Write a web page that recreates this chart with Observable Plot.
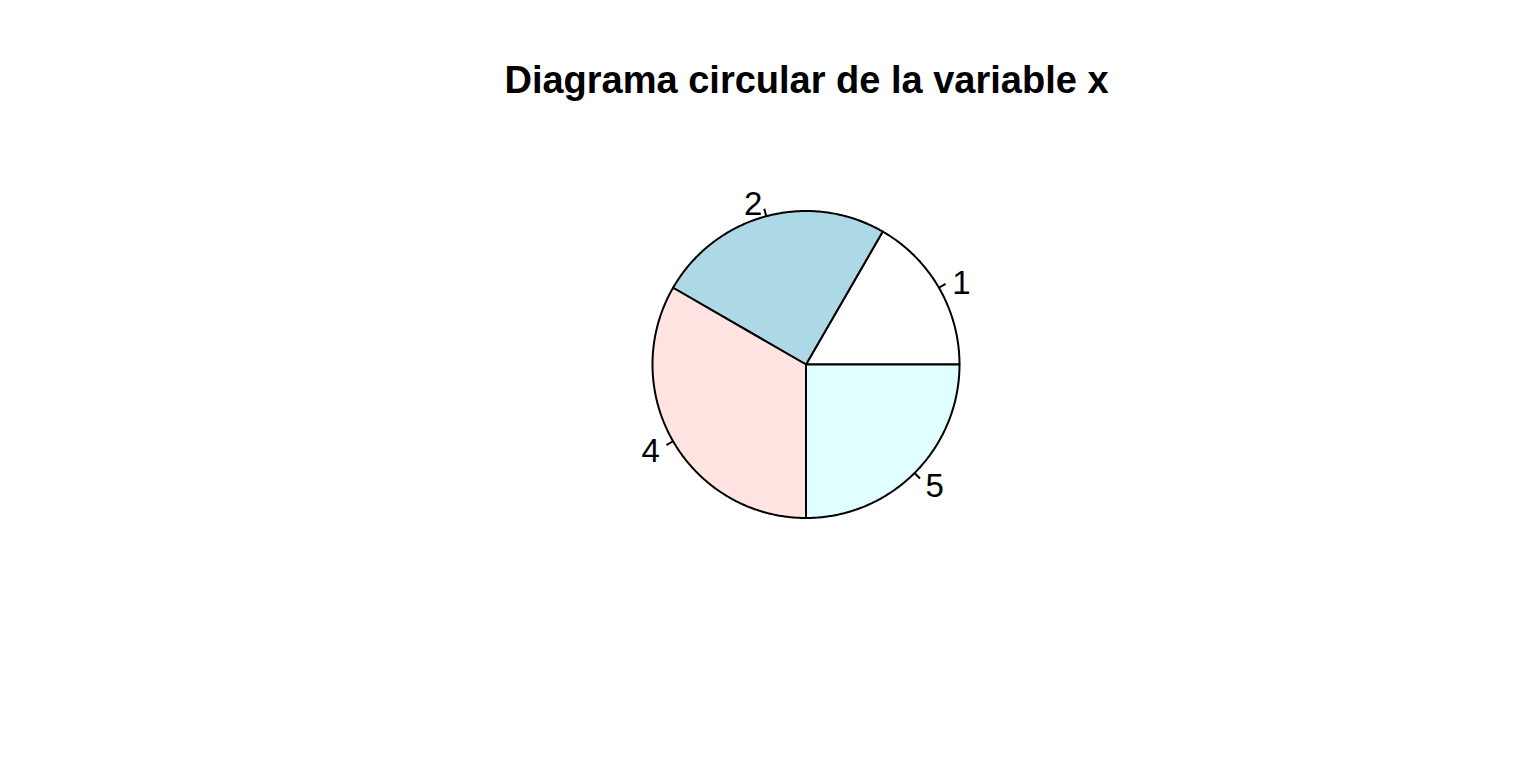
<!DOCTYPE html>
<html>
<head>
<meta charset="utf-8">
<script src="https://cdn.jsdelivr.net/npm/d3@7"></script>
<script src="https://cdn.jsdelivr.net/npm/@observablehq/plot@0.6"></script>
<style>
  html, body { margin: 0; padding: 0; background: #ffffff; }
  #wrap { width: 1536px; height: 768px; position: relative; overflow: hidden; }
  #title {
    box-sizing: border-box;
    width: 1536px; height: 120px;
    padding-top: 61px; padding-left: 77px;
    text-align: center;
    font-family: "Liberation Sans", Arial, sans-serif;
    font-weight: bold; font-size: 38px; line-height: 38px;
    color: #000;
  }
  #chart svg { display: block; }
</style>
</head>
<body>
<div id="wrap">
  <div id="title">Diagrama circular de la variable x</div>
  <div id="chart"></div>
</div>
<script>
// Data
const categories = ["1", "2", "4", "5"];
const counts = [2, 3, 4, 3];
const colors = ["white", "lightblue", "mistyrose", "lightcyan"];

// Layout (pixels)
const W = 1536, H = 648;
const cx = 805.5, cy = 244, R = 153.5;

// Build slices (counter-clockwise from 3 o'clock, as in R's pie())
const total = d3.sum(counts);
let cum = 0;
const slices = categories.map((c, i) => {
  const a0 = cum / total * 2 * Math.PI;
  cum += counts[i];
  const a1 = cum / total * 2 * Math.PI;
  return {cat: c, count: counts[i], color: colors[i], a0, a1, mid: (a0 + a1) / 2};
});

// Polygon outlines for each slice, in radius units
const poly = [];
for (const s of slices) {
  const n = Math.max(2, Math.ceil((s.a1 - s.a0) / (2 * Math.PI) * 720));
  poly.push({cat: s.cat, color: s.color, x: 0, y: 0});
  for (let k = 0; k <= n; k++) {
    const a = s.a0 + (s.a1 - s.a0) * k / n;
    poly.push({cat: s.cat, color: s.color, x: Math.cos(a), y: Math.sin(a)});
  }
  poly.push({cat: s.cat, color: s.color, x: 0, y: 0});
}

const chart = Plot.plot({
  width: W,
  height: H,
  margin: 0,
  style: {fontFamily: "'Liberation Sans', Arial, sans-serif", background: "white", color: "black"},
  x: {domain: [-cx / R, (W - cx) / R], axis: null},
  y: {domain: [-(H - cy) / R, cy / R], axis: null},
  color: {type: "identity"},
  marks: [
    Plot.line(poly, {x: "x", y: "y", z: "cat", fill: "color", stroke: "black", strokeWidth: 2, strokeLinejoin: "round"}),
    Plot.link(slices, {
      x1: d => Math.cos(d.mid), y1: d => Math.sin(d.mid),
      x2: d => 1.05 * Math.cos(d.mid), y2: d => 1.05 * Math.sin(d.mid),
      stroke: "black", strokeWidth: 2
    }),
    Plot.text(slices, {
      filter: d => Math.cos(d.mid) >= 0,
      x: d => 1.1 * Math.cos(d.mid), y: d => 1.1 * Math.sin(d.mid),
      text: "cat", textAnchor: "start", fontSize: 33, dy: 3, fill: "black"
    }),
    Plot.text(slices, {
      filter: d => Math.cos(d.mid) < 0,
      x: d => 1.1 * Math.cos(d.mid), y: d => 1.1 * Math.sin(d.mid),
      text: "cat", textAnchor: "end", fontSize: 33, dy: 3, fill: "black"
    })
  ]
});
document.getElementById("chart").appendChild(chart);
</script>
</body>
</html>
